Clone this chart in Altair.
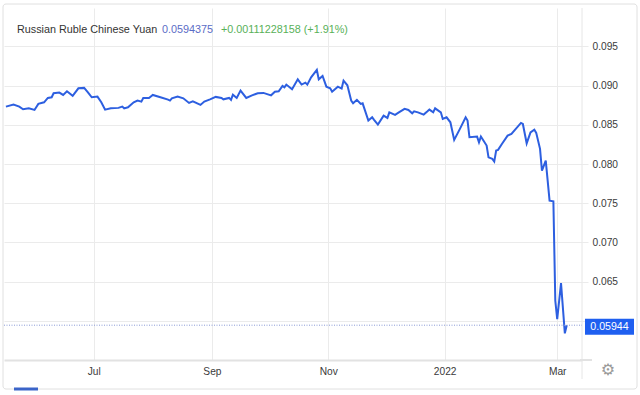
import altair as alt
import pandas as pd

# ---- data ----
dates = [
    "2021-05-16", "2021-05-20", "2021-05-23", "2021-05-25", "2021-05-28", "2021-05-31",
    "2021-06-02", "2021-06-05", "2021-06-07", "2021-06-09", "2021-06-10", "2021-06-13",
    "2021-06-15", "2021-06-17", "2021-06-20", "2021-06-23", "2021-06-26", "2021-06-28",
    "2021-06-30", "2021-07-03", "2021-07-05", "2021-07-07", "2021-07-10", "2021-07-14",
    "2021-07-16", "2021-07-17", "2021-07-19", "2021-07-22", "2021-07-24", "2021-07-26",
    "2021-07-27", "2021-07-30", "2021-08-01", "2021-08-05", "2021-08-09", "2021-08-10",
    "2021-08-11", "2021-08-14", "2021-08-17", "2021-08-20", "2021-08-22", "2021-08-26",
    "2021-08-28", "2021-08-31", "2021-09-03", "2021-09-06", "2021-09-07", "2021-09-10",
    "2021-09-11", "2021-09-12", "2021-09-14", "2021-09-16", "2021-09-19", "2021-09-22",
    "2021-09-25", "2021-09-28", "2021-10-02", "2021-10-04", "2021-10-06", "2021-10-08",
    "2021-10-09", "2021-10-10", "2021-10-13", "2021-10-16", "2021-10-18", "2021-10-20",
    "2021-10-21", "2021-10-23", "2021-10-26", "2021-10-27", "2021-10-29", "2021-10-31",
    "2021-11-02", "2021-11-03", "2021-11-06", "2021-11-08", "2021-11-09", "2021-11-11",
    "2021-11-13", "2021-11-14", "2021-11-16", "2021-11-18", "2021-11-19", "2021-11-22",
    "2021-11-24", "2021-11-25", "2021-11-27", "2021-11-30", "2021-12-02", "2021-12-03",
    "2021-12-06", "2021-12-08", "2021-12-11", "2021-12-13", "2021-12-15", "2021-12-16",
    "2021-12-18", "2021-12-21", "2021-12-23", "2021-12-24", "2021-12-26", "2021-12-27",
    "2021-12-30", "2021-12-31", "2022-01-02", "2022-01-04", "2022-01-06", "2022-01-09",
    "2022-01-12", "2022-01-13", "2022-01-14", "2022-01-18", "2022-01-19", "2022-01-20",
    "2022-01-23", "2022-01-24", "2022-01-26", "2022-01-27", "2022-01-28", "2022-01-29",
    "2022-01-31", "2022-02-03", "2022-02-05", "2022-02-10", "2022-02-11", "2022-02-13",
    "2022-02-15", "2022-02-17", "2022-02-18", "2022-02-20", "2022-02-21", "2022-02-23",
    "2022-02-25", "2022-02-27", "2022-02-28", "2022-03-01", "2022-03-03", "2022-03-05",
    "2022-03-06",
]
values = [
    0.08732, 0.08758, 0.08732, 0.08698, 0.08710, 0.08690,
    0.08767, 0.08787, 0.08843, 0.08851, 0.08902, 0.08911,
    0.08881, 0.08927, 0.08869, 0.08966, 0.08971, 0.08915,
    0.08851, 0.08860, 0.08787, 0.08694, 0.08710, 0.08716,
    0.08732, 0.08710, 0.08723, 0.08787, 0.08809, 0.08796,
    0.08843, 0.08843, 0.08881, 0.08851, 0.08821, 0.08809,
    0.08838, 0.08860, 0.08838, 0.08779, 0.08800, 0.08754,
    0.08796, 0.08825, 0.08856, 0.08843, 0.08825, 0.08843,
    0.08818, 0.08885, 0.08843, 0.08936, 0.08843, 0.08876,
    0.08902, 0.08907, 0.08876, 0.08922, 0.08927, 0.08996,
    0.08978, 0.09013, 0.08953, 0.09080, 0.09013, 0.09038,
    0.09013, 0.09106, 0.09200, 0.09080, 0.09124, 0.08987,
    0.08966, 0.08923, 0.08987, 0.08962, 0.09064, 0.09004,
    0.08809, 0.08774, 0.08818, 0.08767, 0.08774, 0.08554,
    0.08596, 0.08563, 0.08503, 0.08617, 0.08588, 0.08659,
    0.08626, 0.08659, 0.08703, 0.08690, 0.08647, 0.08672,
    0.08659, 0.08630, 0.08672, 0.08694, 0.08659, 0.08710,
    0.08659, 0.08575, 0.08596, 0.08532, 0.08307, 0.08448,
    0.08596, 0.08554, 0.08341, 0.08350, 0.08277, 0.08350,
    0.08235, 0.08085, 0.08065, 0.08031, 0.08171, 0.08180,
    0.08256, 0.08362, 0.08384, 0.08524, 0.08511, 0.08264,
    0.08404, 0.08439, 0.08397, 0.08193, 0.07916, 0.08043,
    0.07533, 0.07524, 0.06258, 0.06020, 0.06480, 0.05840,
    0.05944,
]
title_name = "Russian Ruble Chinese Yuan"
title_price = "0.0594375"
title_change = "+0.00111228158 (+1.91%)"
last_value = 0.05944
last_label = "0.05944"
y_ticks = [0.060, 0.065, 0.070, 0.075, 0.080, 0.085, 0.090, 0.095]
x_ticks = ["2021-07-01", "2021-09-01", "2021-11-01", "2022-01-01", "2022-03-01"]
x_domain = ["2021-05-15", "2022-03-14"]
y_domain = [0.055, 0.0999]

# ---- layout / style ----
W, H = 578, 352
FONT = "Liberation Sans"
LINE = "#2d5fe0"
GRID = "#ebebeb"
LABEL = "#3a3a3a"


def dt(s):
    y, m, d = (int(p) for p in s.split("-"))
    return alt.DateTime(year=y, month=m, date=d, utc=True)


df = pd.DataFrame({"date": dates, "value": values})
last_df = pd.DataFrame({"value": [last_value], "label": [last_label]})
one = pd.DataFrame({"k": [0]})

xscale = alt.Scale(type="utc", domain=[dt(s) for s in x_domain])
yscale = alt.Scale(domain=y_domain, zero=False, nice=False)

yaxis = alt.Axis(orient="right", values=y_ticks, grid=True, gridColor=GRID,
                 domain=False, ticks=True, tickColor=GRID, tickSize=6,
                 labelPadding=4, labelFont=FONT, labelFontSize=10.2,
                 labelColor=LABEL,
                 labelExpr="datum.value < 0.0605 ? '' : format(datum.value, '.3f')")

line = alt.Chart(df).mark_line(color=LINE, strokeWidth=2).encode(
    x=alt.X("date:T", scale=xscale, title=None,
            axis=alt.Axis(values=[dt(s) for s in x_ticks], grid=True, gridColor=GRID,
                          ticks=False, domain=True, domainColor="#e2e2e2", domainWidth=2,
                          labelPadding=6, labelFont=FONT, labelFontSize=10.2,
                          labelColor=LABEL, labelOverlap=False, labelFlush=False,
                          labelExpr="utcFormat(datum.value, utcmonth(datum.value) == 0 ? '%Y' : '%b')")),
    y=alt.Y("value:Q", scale=yscale, title=None, axis=yaxis),
)

dotted = alt.Chart(last_df).mark_rule(color="#8a9ad6", strokeDash=[1, 1.5], strokeWidth=1).encode(
    y=alt.Y("value:Q", scale=yscale, title=None, axis=yaxis),
    x=alt.value(0), x2=alt.value(W),
)

box = alt.Chart(last_df).transform_calculate(
    lo="datum.value - 0.00122", hi="datum.value + 0.00082"
).mark_rect(color="#1f5ff0").encode(
    y=alt.Y("lo:Q", scale=yscale, title=None, axis=yaxis), y2="hi:Q",
    x=alt.value(581), x2=alt.value(630),
)

box_text = alt.Chart(last_df).mark_text(
    color="white", font=FONT, fontSize=10.6, align="center", baseline="middle", dy=1.5
).encode(
    y=alt.Y("value:Q", scale=yscale, title=None, axis=yaxis),
    x=alt.value(605.5), text="label:N",
)

right_line = alt.Chart(one).mark_rule(color="#e6e6e6", strokeWidth=1).encode(
    x=alt.value(W), y=alt.value(0), y2=alt.value(371)
)
axis_ext = alt.Chart(one).mark_rule(color="#e2e2e2", strokeWidth=2).encode(
    x=alt.value(W - 2), x2=alt.value(588), y=alt.value(H)
)
card = alt.Chart(one).mark_rect(fill="transparent", stroke="#e0e0e0", strokeWidth=1, cornerRadius=3).encode(
    x=alt.value(-1), x2=alt.value(633), y=alt.value(-4), y2=alt.value(381)
)
nav_bar = alt.Chart(one).mark_rule(color="#3b64c8", strokeWidth=3).encode(
    x=alt.value(10), x2=alt.value(34), y=alt.value(381)
)
gear = alt.Chart(one).mark_text(text="⚙", color="#9a9a9a", fontSize=16,
                                font="DejaVu Sans", align="center", baseline="middle").encode(
    x=alt.value(604), y=alt.value(362)
)

TS = 10.8
t1 = alt.Chart(one).mark_text(text=title_name, color="#333333", font=FONT, fontSize=TS,
                              align="left", baseline="middle").encode(x=alt.value(13), y=alt.value(22))
t2 = alt.Chart(one).mark_text(text=title_price, color="#5a6cc6", font=FONT, fontSize=TS,
                              align="left", baseline="middle").encode(x=alt.value(158), y=alt.value(22))
t3 = alt.Chart(one).mark_text(text=title_change, color="#58b158", font=FONT, fontSize=TS,
                              align="left", baseline="middle").encode(x=alt.value(217), y=alt.value(22))

chart = alt.layer(
    card, right_line, line, dotted, axis_ext, box, box_text, nav_bar, gear, t1, t2, t3
).properties(
    width=W, height=H,
    autosize=alt.AutoSizeParams(type="none"),
    padding={"left": 4, "top": 8, "right": 640 - 4 - W, "bottom": 395 - 8 - H},
    background="white",
).configure_view(strokeWidth=0)

chart.save("out.html", embed_options={"renderer": "svg", "actions": False})
